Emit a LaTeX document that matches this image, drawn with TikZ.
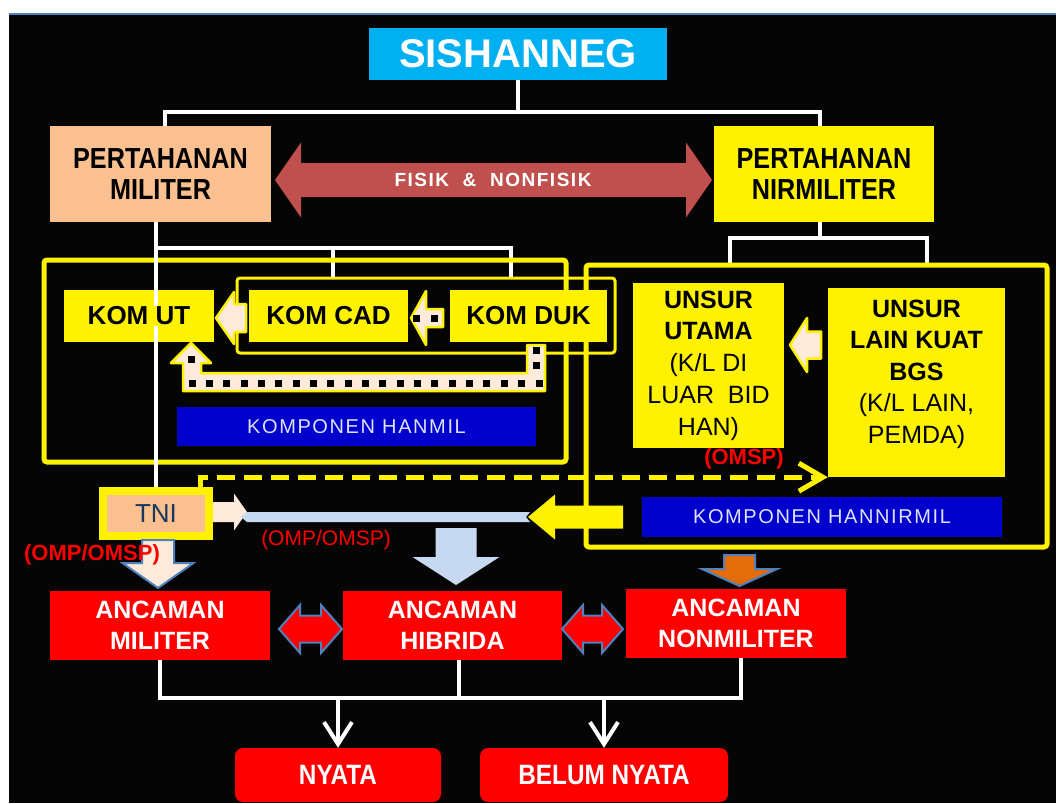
\documentclass[tikz,border=0pt]{standalone}
\usepackage{fontspec}
\setmainfont{Liberation Sans}
\newfontfamily\condfont[FakeStretch=0.87]{Liberation Sans}
\newfontfamily\spacedfont[LetterSpace=8]{Liberation Sans}
\usetikzlibrary{arrows.meta}

\definecolor{sisblue}{RGB}{0,176,240}
\definecolor{peach}{RGB}{250,192,143}
\definecolor{lpeach}{RGB}{253,234,218}
\definecolor{lblue}{RGB}{198,217,241}
\definecolor{steel}{RGB}{79,129,189}
\definecolor{fisik}{RGB}{192,80,77}
\definecolor{kompblue}{RGB}{0,0,204}
\definecolor{orng}{RGB}{228,108,10}
\definecolor{navy}{RGB}{23,55,94}
\definecolor{bg}{RGB}{5,5,5}

\newcommand{\fsz}[2]{\fontsize{#1}{#2}\selectfont}
% block arrow: [style]{tail}{angle}{length}{shaft}{head}{head length}
\newcommand{\blockarrow}[7][]{\path[#1,shift={#2},rotate=#3] (0,-#5/2) -- ({#4-#7},-#5/2) -- ({#4-#7},-#6/2) -- (#4,0) -- ({#4-#7},#6/2) -- ({#4-#7},#5/2) -- (0,#5/2) -- cycle;}
\newcommand{\dblarrow}[7][]{\path[#1,shift={#2},rotate=#3] (0,0) -- (#7,-#6/2) -- (#7,-#5/2) -- ({#4-#7},-#5/2) -- ({#4-#7},-#6/2) -- (#4,0) -- ({#4-#7},#6/2) -- ({#4-#7},#5/2) -- (#7,#5/2) -- (#7,#6/2) -- cycle;}

\tikzset{
	ybox/.style={fill=yellow, inner sep=0pt, align=center},
	pbox/.style={fill=peach, inner sep=0pt, align=center},
	rbox/.style={fill=red, text=white, inner sep=0pt, align=center, font=\bfseries\fsz{25}{31}},
	bbox/.style={fill=kompblue, text=white!88!blue, inner sep=0pt, font=\spacedfont\fsz{20}{24}},
	frame/.style={draw=yellow, line width=5, rounded corners=3, inner sep=0pt},
	wire/.style={draw=white, line width=4},
	note/.style={text=red, inner sep=0pt},
	hollow/.style={fill=lpeach, draw=yellow, line width=2.5, line join=round},
	barb/.style={-{Straight Barb[length=#1,width=28pt]}},
}

\begin{document}
\begin{tikzpicture}[x=1pt,y=-1pt]
	\useasboundingbox (0,0) rectangle (1056,803);
	\fill[white] (0,0) rectangle (1056,803);
	\fill[bg] (9,13) rectangle (1056,803);
	\draw[steel, line width=2.5] (9,14) -- (1056,14);

	\node[fill=sisblue, text=white, minimum width=298, minimum height=52, font=\bfseries\fsz{40}{44}] (sis) at (518,54) {SISHANNEG};
	\node[pbox, minimum width=221, minimum height=96, font=\condfont\bfseries\fsz{29}{31}] (pm) at (160.5,174) {PERTAHANAN\\MILITER};
	\node[ybox, minimum width=220, minimum height=96, font=\condfont\bfseries\fsz{29}{31}] (pn) at (824,174) {PERTAHANAN\\NIRMILITER};
	\dblarrow[fill=fisik]{(275,180)}{0}{437}{34}{75}{26}
	\node[text=white, font=\spacedfont\bfseries\fsz{19}{22}] (fisiklbl) at (493,180) {FISIK~~\&~~NONFISIK};

	\coordinate (top) at (518,112);
	\draw[wire] (sis.south) -- (top);
	\draw[wire] (pm.north -| 165,0) |- (top) -| (pn.north -| 820,0);

	\node[frame, line width=3, minimum width=378, minimum height=75] (komgrp) at (426,315.5) {};
	\coordinate (mfork) at (156,248);
	\draw[wire] (pm.south -| mfork) -- (mfork) -| (komgrp.north -| 333,0);
	\draw[wire] (mfork) -| (komgrp.north -| 511,0);
	\coordinate (nfork) at (820,238);
	\draw[wire] (pn.south -| nfork) -- (nfork);
	\draw[wire] (nfork) -| (730,265);
	\draw[wire] (nfork) -| (927,265);

	\node[frame, minimum width=522, minimum height=202] (milframe) at (305,361) {};
	\node[frame, minimum width=461, minimum height=282] (nirframe) at (816.5,406) {};

	\node[ybox, minimum width=150, minimum height=52] (komut) at (139,316) {};
	\node[ybox, minimum width=159, minimum height=52, font=\bfseries\fsz{26}{28}] (komcad) at (328.5,316) {KOM CAD};
	\node[ybox, minimum width=157, minimum height=52, font=\bfseries\fsz{26}{28}] (komduk) at (528.5,316) {KOM DUK};
	\node[bbox, minimum width=359, minimum height=39] (hanmil) at (356.5,426.5) {KOMPONEN HANMIL};

	\node[ybox, minimum width=151, minimum height=165, font=\fsz{25}{31.7}] (unsurut) at (708.5,365.5) {\textbf{UNSUR}\\\textbf{UTAMA}\\(K/L DI\\LUAR~~BID\\HAN)};
	\node[ybox, minimum width=177, minimum height=189] (unsurlain) at (916.5,382.5) {};
	\node[align=center, font=\fsz{25}{31.5}] (unsurlaintxt) at (916.5,374) {\textbf{UNSUR}\\\textbf{LAIN KUAT}\\\textbf{BGS}\\(K/L LAIN,\\PEMDA)};
	\node[bbox, minimum width=360, minimum height=40] (hannirmil) at (822,517) {KOMPONEN HANNIRMIL};

	\node[pbox, draw=yellow, line width=8, minimum width=106, minimum height=45, text=navy, font=\fsz{26}{28}] (tni) at (156,513.5) {TNI};
	\draw[wire] (mfork) -- (tni.north);
	\node[fill=yellow, inner sep=1pt, font=\bfseries\fsz{26}{28}] (komuttxt) at (komut) {KOM UT};

	% panah di dalam komponen
	\blockarrow[hollow]{(246,318)}{180}{30}{28}{52}{18}
	\blockarrow[hollow]{(443,318)}{180}{32}{18}{54}{15}
	\foreach \x in {412.5,430.5} \fill[black] (\x,314.5) rectangle ++(7,7);
	\path[hollow] (527,345) -- (545,345) -- (545,391) -- (183,391) -- (183,363) -- (171,363) -- (191,343) -- (211,363) -- (201,363) -- (201,373) -- (527,373) -- cycle;
	\foreach \i in {0,...,20} \fill[black] (188.5+\i*17.35,379.5) rectangle ++(7,7);
	\foreach \p in {(187.5,356),(532.5,347),(532.5,362)} \fill[black] \p rectangle ++(7,7);
	\blockarrow[hollow]{(821,345)}{180}{31}{27}{54}{17}

	\draw[yellow, line width=5, dash pattern=on 18pt off 9pt, barb=24pt] (200,487) |- (unsurlain.south west);
	\node[note, font=\bfseries\fsz{22}{24}] (omsp) at (744,459) {(OMSP)};

	\blockarrow[fill=lpeach]{(213,512)}{0}{34}{20}{37}{13}
	\fill[lblue] (247,512) -- (530,512) -- (526,517) -- (530,522) -- (247,522) -- (241,517) -- cycle;
	\blockarrow[fill=yellow]{(623,517)}{180}{95}{23}{45}{27}
	\node[note, font=\fsz{21}{24}] (omp) at (326,540) {(OMP/OMSP)};

	\blockarrow[fill=lpeach, draw=steel, line width=2]{(158,540)}{270}{48}{32}{71}{25}
	\blockarrow[fill=lblue]{(456,528)}{270}{57}{41}{87}{28}
	\blockarrow[fill=orng, draw=steel, line width=2]{(739.5,555)}{270}{31}{31}{75}{17}
	\node[note, font=\bfseries\fsz{22}{24}] (omptni) at (92,555) {(OMP/OMSP)};

	\node[rbox, minimum width=220, minimum height=69] (am) at (160,625.5) {ANCAMAN\\MILITER};
	\node[rbox, minimum width=219, minimum height=69] (ah) at (452.5,625.5) {ANCAMAN\\HIBRIDA};
	\node[rbox, minimum width=220, minimum height=69] (an) at (736,623.5) {ANCAMAN\\NONMILITER};
	\dblarrow[fill=red, draw=steel, line width=2]{(279,629)}{0}{63}{27}{48}{21}
	\dblarrow[fill=red, draw=steel, line width=2]{(562,629)}{0}{61}{27}{48}{21}

	\node[rbox, rounded corners=8, minimum width=206, minimum height=54, font=\condfont\bfseries\fsz{28}{30}] (nyata) at (338,775) {NYATA};
	\node[rbox, rounded corners=8, minimum width=248, minimum height=54, font=\condfont\bfseries\fsz{28}{30}] (belum) at (604,775) {BELUM NYATA};

	\coordinate (fork) at (459,698);
	\draw[wire] (am.south) |- (fork) -| (an.south -| 741,0);
	\draw[wire] (ah.south -| fork) -- (fork);
	\draw[wire, barb=22pt] (nyata.north |- fork) -- (nyata.north);
	\draw[wire, barb=22pt] (belum.north |- fork) -- (belum.north);
\end{tikzpicture}
\end{document}
